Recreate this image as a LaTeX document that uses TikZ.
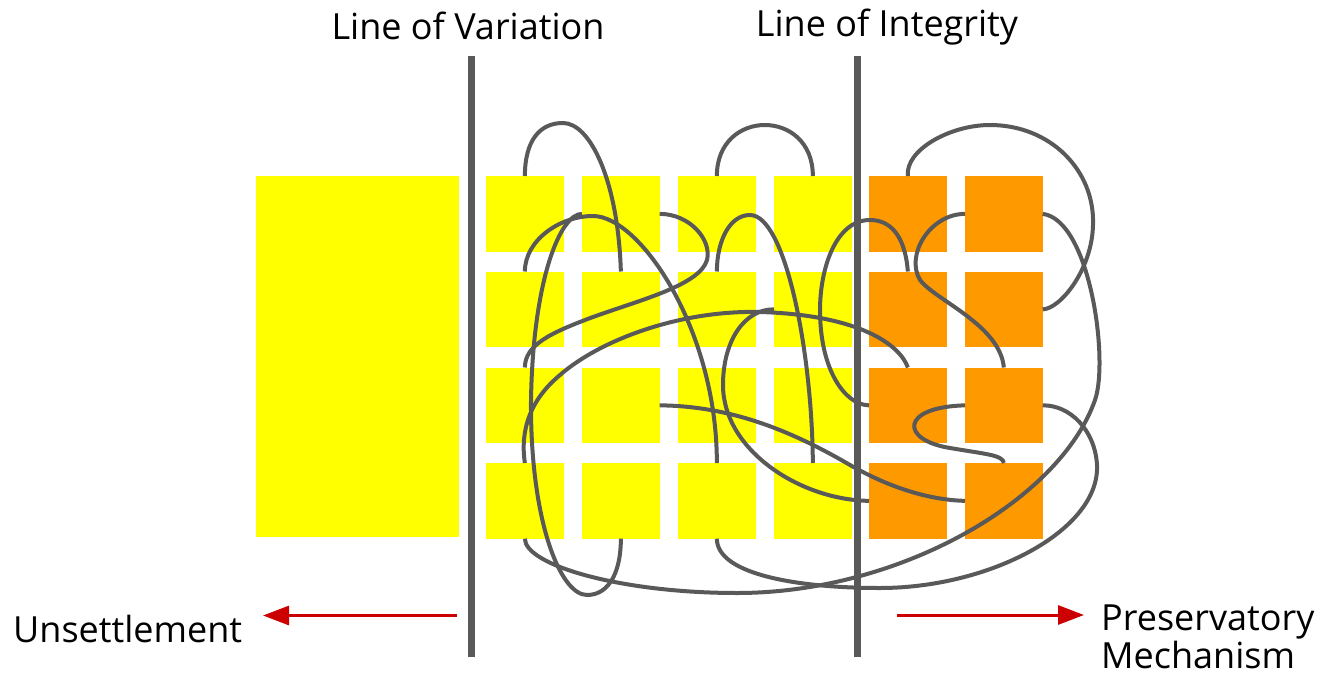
\documentclass[tikz,border=0pt]{standalone}
\usepackage{fontspec}
\setmainfont{Open Sans}
\usetikzlibrary{arrows.meta}
\definecolor{wiregray}{HTML}{595959}
\definecolor{sqyellow}{HTML}{FFFF00}
\definecolor{sqorange}{HTML}{FF9900}
\definecolor{arrred}{HTML}{CC0000}
\begin{document}
\begin{tikzpicture}[x=1pt,y=1pt,
  sq/.style={rectangle,inner sep=0pt,outer sep=0pt,minimum width=77.7pt,minimum height=75.7pt},
  ysq/.style={sq,fill=sqyellow},
  osq/.style={sq,fill=sqorange},
  wire/.style={draw=wiregray,line width=4pt},
  bar/.style={draw=wiregray,line width=7pt},
  redarrow/.style={draw=arrred,line width=3pt,-{Triangle[length=26pt,width=19pt]}},
  lbl/.style={font=\fontsize{36}{40}\selectfont,inner sep=0pt,text=black}]
\useasboundingbox (0,0) rectangle (1322,-677);
% big block
\node[rectangle,inner sep=0pt,outer sep=0pt,minimum width=203pt,minimum height=361pt,fill=sqyellow] (big) at (357.5,-356.5) {};
% squares
\foreach \r/\y in {1/-213.85,2/-309.35,3/-405.35,4/-500.85}{
  \foreach \c/\x in {1/524.85,2/620.85,3/716.85,4/812.85}{
    \node[ysq] (s\r\c) at (\x,\y) {};
  }
  \foreach \c/\x in {5/907.85,6/1003.85}{
    \node[osq] (s\r\c) at (\x,\y) {};
  }
}
% wires
\draw[wire] (s11.north) .. controls (525,-140) and (540,-123) .. (563,-123) .. controls (590,-123) and (618,-180) .. (s22.north);
\draw[wire] (s13.north) .. controls +(0,68) and +(0,68) .. (s14.north);
\draw[wire] (s21.north) .. controls (525,-240) and (560,-216) .. (593,-216) .. controls (640,-216) and (717,-330) .. (s43.north);
\draw[wire] (s12.west) .. controls (560,-214) and (533,-280) .. (531,-400) .. controls (530,-520) and (560,-595) .. (587,-595) .. controls (610,-595) and (621,-570) .. (s42.south);
\draw[wire] (s12.east) .. controls (690,-214) and (712,-240) .. (707,-260) .. controls (700,-285) and (640,-300) .. (593,-317) .. controls (550,-333) and (525,-345) .. (s31.north);
\draw[wire] (s23.north) .. controls (717,-240) and (730,-215) .. (750,-215) .. controls (785,-215) and (812,-350) .. (s44.north);
\draw[wire] (s24.west) .. controls (745,-309) and (723,-340) .. (723,-385) .. controls (723,-450) and (800,-500) .. (s45.west);
\draw[wire] (s32.east) .. controls (730,-406) and (790,-430) .. (850,-465) .. controls (890,-488) and (930,-500) .. (s46.west);
\draw[wire] (s35.north) .. controls (900,-345) and (860,-315) .. (760,-312) .. controls (680,-310) and (600,-340) .. (560,-375) .. controls (530,-400) and (520,-430) .. (s41.north);
\draw[wire] (s41.south) .. controls (525,-565) and (620,-593) .. (737,-593) .. controls (900,-593) and (1060,-500) .. (1095,-400) .. controls (1109,-360) and (1090,-220) .. (s16.east);
\draw[wire] (s15.north) .. controls (905,-150) and (950,-125) .. (990,-125) .. controls (1050,-125) and (1095,-170) .. (1093,-225) .. controls (1092,-270) and (1060,-309) .. (s26.east);
\draw[wire] (s43.south) .. controls (717,-575) and (800,-588) .. (880,-588) .. controls (990,-588) and (1100,-530) .. (1097,-465) .. controls (1095,-430) and (1070,-405) .. (s36.east);
\draw[wire] (s36.west) .. controls (900,-407) and (900,-440) .. (950,-448) .. controls (985,-454) and (1003,-455) .. (s46.north);
\draw[wire] (s16.west) .. controls (930,-214) and (905,-255) .. (920,-280) .. controls (935,-300) and (1000,-325) .. (s36.north);
\draw[wire] (s25.north) .. controls (905,-235) and (890,-220) .. (870,-220) .. controls (835,-220) and (820,-270) .. (820,-310) .. controls (820,-370) and (845,-405) .. (s35.west);
% bars
\coordinate (lvtop) at (471,-56);
\coordinate (lvbot) at (471,-657);
\coordinate (litop) at (857,-56);
\coordinate (libot) at (857,-657);
\draw[bar] (lvtop) -- (lvbot);
\draw[bar] (litop) -- (libot);
% arrows
\coordinate (ua) at (457,-615.5);
\coordinate (ub) at (263,-615.5);
\coordinate (pa) at (897,-615);
\coordinate (pb) at (1084,-615);
\draw[redarrow] (ua) -- (ub);
\draw[redarrow] (pa) -- (pb);
% labels
\node[lbl,anchor=base] (lv) at (468,-40) {Line of Variation};
\node[lbl,anchor=base] (li) at (887,-37) {Line of Integrity};
\node[lbl,anchor=base west] (us) at (13,-642) {Unsettlement};
\node[lbl,anchor=base west] (pm1) at (1101,-630) {Preservatory};
\node[lbl,anchor=base west] (pm2) at (1101,-668) {Mechanism};
\end{tikzpicture}
\end{document}
